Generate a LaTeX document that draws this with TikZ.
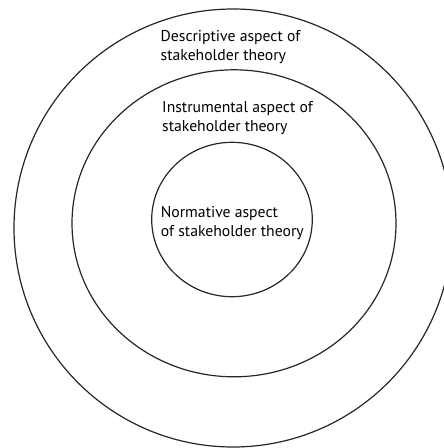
\documentclass[tikz,border=0pt]{standalone}
\usepackage{fontspec}
\setmainfont{PT Sans}
\begin{document}
\begin{tikzpicture}[x=1pt,y=-1pt,
  ring/.style={draw=black!85, line width=1.2pt},
  label/.style={anchor=base west, inner sep=0pt, align=left,
    font=\fontsize{15.7}{19}\selectfont}]
\useasboundingbox (0,0) rectangle (444,448);
% three nested rings
\draw[ring] (233,228) ellipse [x radius=219, y radius=219];
\draw[ring] (234,223.3) ellipse [x radius=162, y radius=153.5];
\draw[ring] (232,219.5) ellipse [x radius=80.3, y radius=77.2];
% labels, placed by the baseline of their second line
\node[label] (descr) at (160.5,60.5) {Descriptive aspect of\\stakeholder theory};
\node[label] (instr) at (162,131.7) {Instrumental aspect of\\stakeholder theory};
\node[label] (norm) at (160.7,236.3) {Normative aspect\\of stakeholder theory};
\end{tikzpicture}
\end{document}
